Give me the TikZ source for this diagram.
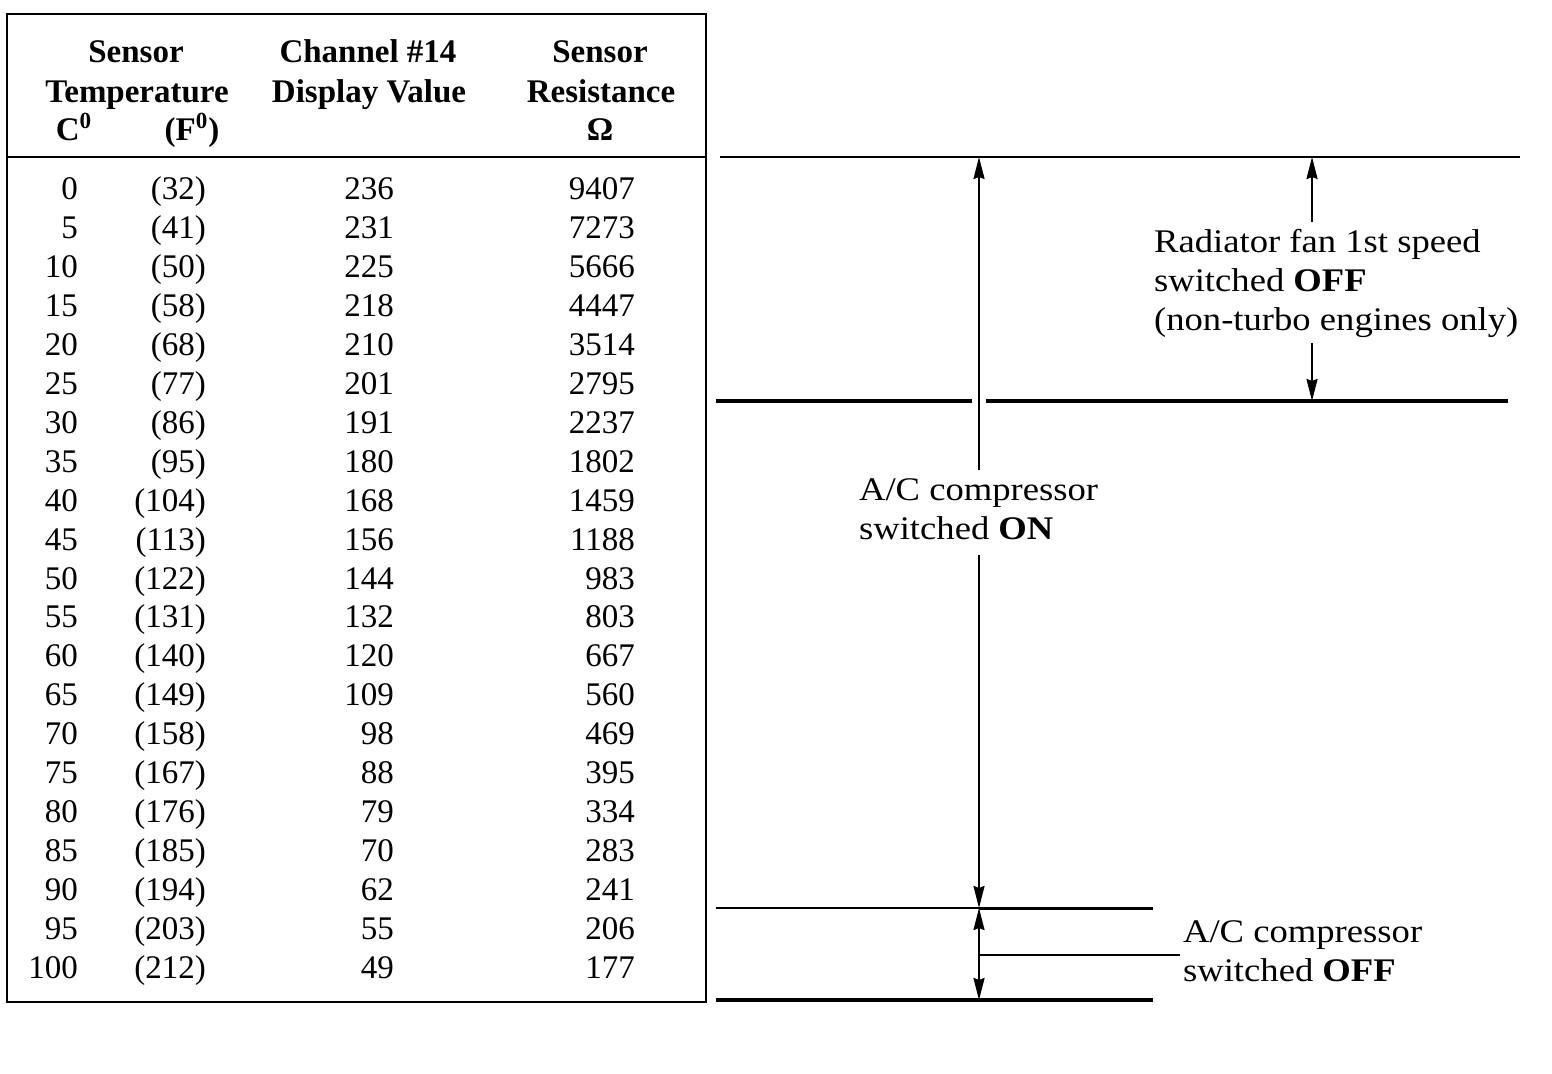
\documentclass[tikz,border=0pt]{standalone}
\usepackage{fontspec}
\setmainfont{Liberation Serif}
\newfontfamily\widefont[FakeStretch=1.11]{Liberation Serif}
\usetikzlibrary{arrows.meta}

\begin{document}
\begin{tikzpicture}
	[x=0.5pt, y=-0.5pt, line width=1.1pt, >={Stealth[length=11pt,width=5.5pt,inset=1pt]},
	cell/.style = {anchor=base east, inner sep=0pt, font=\fontsize{16.5}{19.5}\selectfont},
	head/.style = {anchor=base, inner sep=0pt, font=\bfseries\fontsize{16.5}{19.5}\selectfont},
	lbl/.style = {anchor=north west, inner sep=0pt, align=left, font=\widefont\fontsize{16.5}{19.5}\selectfont}]
	\useasboundingbox (0,0) rectangle (1552,1074);
	% table
	\draw[line width=1.3pt] (7,14) rectangle (706,1002);
	\draw[line width=1.2pt] (7,157) -- (706,157);
	\node[head] (h1) at (136,63) {Sensor};
	\node[head] (h2) at (137,103) {Temperature};
	\node[head] (h3) at (74,141) {C\textsuperscript{0}};
	\node[head] (h4) at (192,141) {(F\textsuperscript{0})};
	\node[head] (h5) at (368,63) {Channel \#14};
	\node[head] (h6) at (369,103) {Display Value};
	\node[head] (h7) at (600,63) {Sensor};
	\node[head] (h8) at (601,103) {Resistance};
	\node[head] (h9) at (600,141) {Ω};
	\foreach \c/\f/\d/\r [count=\i from 0] in {0/32/236/9407, 5/41/231/7273, 10/50/225/5666,
		15/58/218/4447, 20/68/210/3514, 25/77/201/2795, 30/86/191/2237, 35/95/180/1802,
		40/104/168/1459, 45/113/156/1188, 50/122/144/983, 55/131/132/803, 60/140/120/667,
		65/149/109/560, 70/158/98/469, 75/167/88/395, 80/176/79/334, 85/185/70/283,
		90/194/62/241, 95/203/55/206, 100/212/49/177}
	{
		\node[cell] (c\i) at (79,{200+38.9*\i}) {\c};
		\node[cell] (f\i) at (207,{200+38.9*\i}) {(\f)};
		\node[cell] (d\i) at (395,{200+38.9*\i}) {\d};
		\node[cell] (r\i) at (636,{200+38.9*\i}) {\r};
	}
	% switching levels
	\coordinate (fanTop) at (1312,157);
	\coordinate (fanA) at (1312,222);
	\coordinate (fanB) at (1312,343);
	\coordinate (fanBot) at (1312,401);
	\coordinate (onTop) at (979,157);
	\coordinate (onA) at (979,470);
	\coordinate (onB) at (979,555);
	\coordinate (onBot) at (979,908);
	\coordinate (offMid) at (979,955);
	\coordinate (offBot) at (979,1000);
	\draw (720,157) -- (1520,157);
	\draw[line width=1.6pt] (716,401) -- (972,401) (986,401) -- (1508,401);
	\draw (716,908) -- (onBot);
	\draw[line width=1.5pt] (onBot) -- (1153,908);
	\draw (offMid) -- (1180,955);
	\draw[line width=1.6pt] (716,1000) -- (1153,1000);
	\node[lbl] (fan) at (1153,228) {Radiator fan 1st speed\\switched \textbf{OFF}\\(non-turbo engines only)};
	\node[lbl] (on) at (858,478) {A/C compressor\\switched \textbf{ON}};
	\node[lbl] (off) at (1182,920) {A/C compressor\\switched \textbf{OFF}};
	\draw[->] (fanA) -- (fanTop);
	\draw[->] (fanB) -- (fanBot);
	\draw[->] (onA) -- (onTop);
	\draw[->] (onB) -- (onBot);
	\draw[<->] (onBot) -- (offBot);
\end{tikzpicture}
\end{document}
